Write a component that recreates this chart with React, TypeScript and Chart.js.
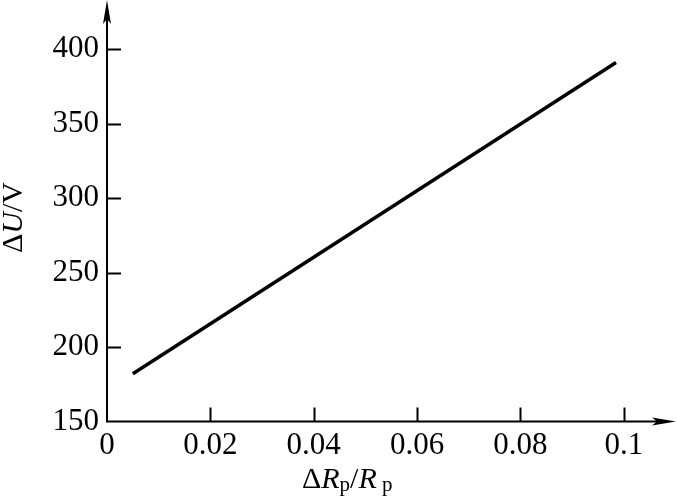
import React, { useEffect, useRef } from "react";
import { Chart, registerables } from "chart.js";

Chart.register(...registerables);

// Data
const ratio = [0.005, 0.0985]; // ΔRp/Rp
const deltaU = [182, 391]; // ΔU / V
const xTickValues = [0, 0.02, 0.04, 0.06, 0.08, 0.1];
const yTickValues = [150, 200, 250, 300, 350, 400];

const FONT = "'Liberation Serif', 'DejaVu Serif', 'Times New Roman', serif";

const axesPlugin = {
  id: "arrowAxes",
  afterDraw(chart: any) {
    const ctx = chart.ctx as CanvasRenderingContext2D;
    const xs = chart.scales.x;
    const ys = chart.scales.y;
    const x0 = xs.getPixelForValue(0);
    const y0 = ys.getPixelForValue(150);
    ctx.save();
    ctx.strokeStyle = "#000";
    ctx.fillStyle = "#000";
    ctx.lineWidth = 2;
    ctx.lineCap = "butt";
    // axis lines
    ctx.beginPath();
    ctx.moveTo(x0, y0 + 1);
    ctx.lineTo(x0, 12);
    ctx.moveTo(x0 - 1, y0);
    ctx.lineTo(664, y0);
    ctx.stroke();
    // arrow heads
    ctx.beginPath();
    ctx.moveTo(x0, 0);
    ctx.lineTo(x0 - 4, 24);
    ctx.lineTo(x0, 19);
    ctx.lineTo(x0 + 4, 24);
    ctx.closePath();
    ctx.fill();
    ctx.beginPath();
    ctx.moveTo(676, y0);
    ctx.lineTo(652, y0 - 4);
    ctx.lineTo(657, y0);
    ctx.lineTo(652, y0 + 4);
    ctx.closePath();
    ctx.fill();
    // inner tick marks
    ctx.beginPath();
    yTickValues.forEach((v) => {
      if (v === 150) return;
      const py = Math.round(ys.getPixelForValue(v)) + 0.5;
      ctx.moveTo(x0, py);
      ctx.lineTo(x0 + 14, py);
    });
    xTickValues.forEach((v) => {
      if (v === 0) return;
      const px = Math.round(xs.getPixelForValue(v)) + 0.5;
      ctx.moveTo(px, y0);
      ctx.lineTo(px, y0 - 14);
    });
    ctx.stroke();

    // x title: ΔRp/Rp
    ctx.textBaseline = "alphabetic";
    ctx.textAlign = "left";
    let x = 302;
    const base = 488;
    const parts: [string, string, number][] = [
      ["Δ", `30px ${FONT}`, 0],
      ["R", `italic 30px ${FONT}`, 0],
      ["p", `21px ${FONT}`, 3],
      ["/", `30px ${FONT}`, 0],
      ["R", `italic 30px ${FONT}`, 0],
      [" p", `21px ${FONT}`, 3],
    ];
    parts.forEach(([t, f, dy]) => {
      ctx.font = f;
      ctx.fillText(t, x, base + dy);
      x += ctx.measureText(t).width;
    });

    // y title: ΔU/V rotated
    ctx.save();
    ctx.translate(22, 253);
    ctx.rotate(-Math.PI / 2);
    let yx = 0;
    const yparts: [string, string][] = [
      ["Δ", `30px ${FONT}`],
      ["U", `italic 30px ${FONT}`],
      ["/V", `30px ${FONT}`],
    ];
    yparts.forEach(([t, f]) => {
      ctx.font = f;
      ctx.fillText(t, yx, 0);
      yx += ctx.measureText(t).width;
    });
    ctx.restore();
    ctx.restore();
  },
};

export default function App() {
  const ref = useRef<HTMLCanvasElement | null>(null);
  useEffect(() => {
    if (!ref.current) return;
    const chart = new Chart(ref.current, {
      type: "line",
      data: {
        datasets: [
          {
            data: ratio.map((r, i) => ({ x: r, y: deltaU[i] })),
            borderColor: "#000",
            borderWidth: 3.5,
            pointRadius: 0,
            fill: false,
            tension: 0,
          },
        ],
      },
      options: {
        responsive: false,
        animation: false,
        layout: { padding: { left: 0, right: 0, top: 0, bottom: 0 } },
        plugins: { legend: { display: false }, tooltip: { enabled: false } },
        scales: {
          x: {
            type: "linear",
            min: 0,
            max: 0.1103,
            grid: { display: false, drawTicks: false },
            border: { display: false },
            afterBuildTicks: (s: any) => {
              s.ticks = xTickValues.map((v) => ({ value: v }));
            },
            afterFit: (s: any) => {
              s.height = 76.5;
              s.paddingLeft = 0;
              s.paddingRight = 0;
            },
            ticks: {
              padding: 6,
              color: "#000",
              font: { family: FONT, size: 31 },
              maxRotation: 0,
              autoSkip: false,
              callback: (v: any) => String(Number(Number(v).toFixed(2))),
            },
          },
          y: {
            type: "linear",
            min: 150,
            max: 433,
            grid: { display: false, drawTicks: false },
            border: { display: false },
            afterBuildTicks: (s: any) => {
              s.ticks = yTickValues.map((v) => ({ value: v }));
            },
            afterFit: (s: any) => {
              s.width = 107;
              s.paddingTop = 0;
              s.paddingBottom = 0;
            },
            ticks: {
              padding: 8,
              color: "#000",
              font: { family: FONT, size: 31 },
              autoSkip: false,
              callback: (v: any) => String(v),
            },
          },
        },
      },
      plugins: [axesPlugin],
    });
    return () => chart.destroy();
  }, []);
  return (
    <div style={{ position: "fixed", left: 0, top: 0, width: 677, height: 498, background: "#fff" }}>
      <canvas ref={ref} width={677} height={498} />
    </div>
  );
}
